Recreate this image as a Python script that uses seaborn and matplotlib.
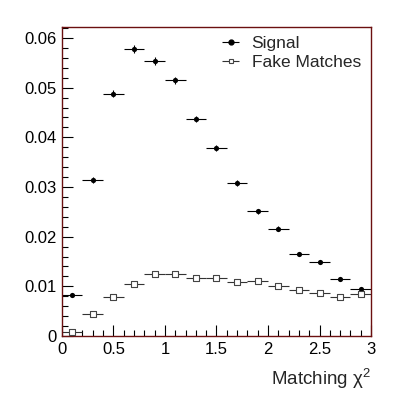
import matplotlib.pyplot as plt
import matplotlib.ticker as mticker
import numpy as np
import pandas as pd
import seaborn as sns

# bin centres in matching chi2
bin_centers = [0.1, 0.3, 0.5, 0.7, 0.9, 1.1, 1.3, 1.5, 1.7, 1.9, 2.1, 2.3, 2.5, 2.7, 2.9]
bin_half = 0.1

signal = [0.0082, 0.0315, 0.0488, 0.0578, 0.0553, 0.0515, 0.0437, 0.0378,
          0.0308, 0.0251, 0.0216, 0.0166, 0.0148, 0.0115, 0.0095]
signal_err = [0.0004, 0.0006, 0.0007, 0.0008, 0.0008, 0.0007, 0.0007, 0.0006,
              0.0006, 0.0005, 0.0005, 0.0004, 0.0004, 0.0004, 0.0004]

fake = [0.0007, 0.0044, 0.0079, 0.0104, 0.0125, 0.0124, 0.0117, 0.0117,
        0.0108, 0.0111, 0.0101, 0.0093, 0.0087, 0.0079, 0.0085]
fake_err = [0.0001, 0.0002, 0.0002, 0.0003, 0.0003, 0.0003, 0.0003, 0.0003,
            0.0003, 0.0003, 0.0003, 0.0002, 0.0002, 0.0002, 0.0002]

sns.set_style('ticks')
plt.rcParams['font.family'] = ['Liberation Sans', 'DejaVu Sans']
plt.rcParams['mathtext.fontset'] = 'custom'
plt.rcParams['mathtext.rm'] = 'Liberation Sans'

df = pd.DataFrame({'x': bin_centers, 'signal': signal, 'fake': fake})

fig = plt.figure(figsize=(3.99, 3.99), dpi=100)
ax = fig.add_axes([0.155, 0.158, 0.775, 0.774])

ax.errorbar(df['x'], df['signal'], xerr=bin_half, yerr=signal_err, fmt='none',
            ecolor='black', elinewidth=0.8, capsize=0, zorder=2)
sns.scatterplot(data=df, x='x', y='signal', ax=ax, color='black', marker='o',
                s=14, edgecolor='black', linewidth=0, zorder=3)

ax.errorbar(df['x'], df['fake'], xerr=bin_half, yerr=fake_err, fmt='none',
            ecolor='#333333', elinewidth=0.8, capsize=0, zorder=2)
sns.scatterplot(data=df, x='x', y='fake', ax=ax, color='white', marker='s',
                s=18, edgecolor='#444444', linewidth=0.8, zorder=3)

# legend proxies
h1 = ax.errorbar([], [], xerr=[], fmt='o', color='black', ms=3.5, elinewidth=0.8)
h2 = ax.errorbar([], [], xerr=[], fmt='s', color='#333333', mfc='white', ms=3.5,
                 mec='#444444', mew=0.8, elinewidth=0.8)
ax.legend([h1, h2], ['Signal', 'Fake Matches'], loc='upper right', frameon=False,
          fontsize=12.5, handlelength=1.6, handletextpad=0.4, borderaxespad=0.1,
          labelspacing=0.25, bbox_to_anchor=(0.995, 1.0))

ax.set_xlim(0, 3)
ax.set_ylim(0, 0.0622)
ax.xaxis.set_major_locator(mticker.MultipleLocator(0.5))
ax.xaxis.set_minor_locator(mticker.MultipleLocator(0.1))
ax.yaxis.set_major_locator(mticker.MultipleLocator(0.01))
ax.yaxis.set_minor_locator(mticker.MultipleLocator(0.002))
ax.xaxis.set_major_formatter(mticker.FuncFormatter(lambda v, p: ('%g' % v)))
ax.yaxis.set_major_formatter(mticker.FuncFormatter(lambda v, p: ('%g' % round(v, 3))))
ax.tick_params(which='both', direction='in', top=False, right=False,
               labelsize=12, colors='black', pad=4)
ax.tick_params(which='major', length=8, width=0.8)
ax.tick_params(which='minor', length=4, width=0.8)

for s in ax.spines.values():
    s.set_visible(True)
    s.set_color('#6b1010')
    s.set_linewidth(1.0)

ax.set_xlabel('')
ax.set_ylabel('')
fig.text(0.93, 0.02, 'Matching χ$^{2}$', ha='right', va='bottom', fontsize=13.5)

fig.savefig('out.png', dpi=100)
